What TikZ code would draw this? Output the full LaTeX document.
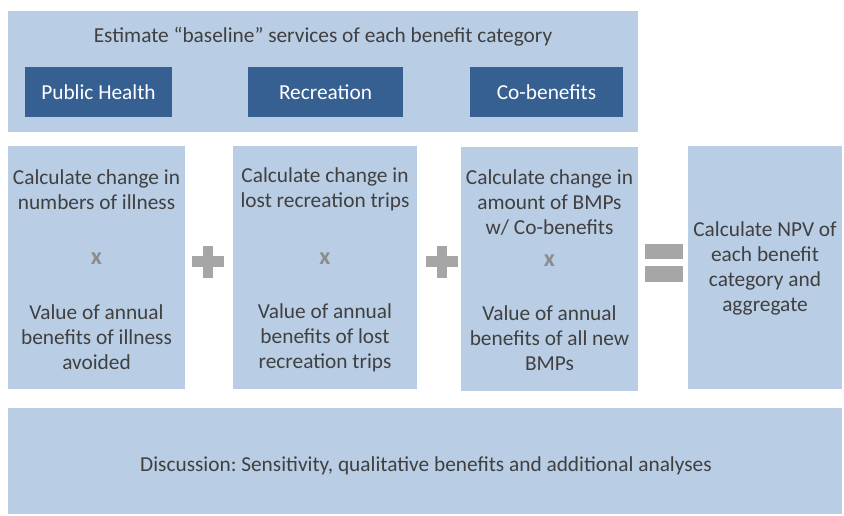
\documentclass[tikz,border=0pt]{standalone}
\usepackage{fontspec}
\setmainfont{Carlito}
\usetikzlibrary{fit}
\definecolor{lb}{HTML}{B9CDE5}
\definecolor{db}{HTML}{376092}
\definecolor{tx}{HTML}{404040}
\definecolor{sg}{HTML}{A6A6A6}
\definecolor{xg}{HTML}{8C8C8C}
\frenchspacing
\begin{document}
\begin{tikzpicture}[x=0.75pt,y=-0.75pt,
  lbox/.style={fill=lb, draw=none, inner sep=0pt},
  dbox/.style={fill=db, draw=none, inner sep=0pt},
  txt/.style={text=tx, align=center, font=\fontsize{16}{18.75}\selectfont, inner sep=0pt},
  btn/.style={text=white, font=\fontsize{16}{18.75}\selectfont, inner sep=0pt},
  xm/.style={text=xg, font=\fontsize{18}{20}\selectfont\bfseries, inner sep=0pt},
  sign/.style={fill=sg, draw=none}]
\useasboundingbox (0,0) rectangle (844,516);
% top band
\node[lbox, fit={(8,11) (638,132)}] (top) {};
\node[txt] (title) at (323,37) {Estimate “baseline” services of each benefit category};
\node[dbox, fit={(25,67) (172,117)}] (ph) {};
\node[btn] (pht) at (ph.center) {Public Health};
\node[dbox, fit={(248,67) (403,117)}] (rec) {};
\node[btn] (rect) at (rec.center) {Recreation};
\node[dbox, fit={(470,67) (623,117)}] (co) {};
\node[btn] (cot) at (co.center) {Co-benefits};
% columns
\node[lbox, fit={(8,146) (185,389)}] (b1) {};
\node[lbox, fit={(233,146) (417,389)}] (b2) {};
\node[lbox, fit={(461,147) (638,391)}] (b3) {};
\node[lbox, fit={(688,146) (842,389)}] (b4) {};
\node[txt] (b1a) at (96.5,189.5) {Calculate change in\\numbers of illness};
\node[xm] (b1x) at (96.5,259) {x};
\node[txt] (b1b) at (96.5,337.5) {Value of annual\\benefits of illness\\avoided};
\node[txt] (b2a) at (325,189.5) {Calculate change in\\lost recreation trips};
\node[xm] (b2x) at (325,259) {x};
\node[txt] (b2b) at (325,337.5) {Value of annual\\benefits of lost\\recreation trips};
\node[txt] (b3a) at (549.5,203) {Calculate change in\\amount of BMPs\\w/ Co-benefits};
\node[xm] (b3x) at (549.5,261) {x};
\node[txt] (b3b) at (549.5,338.5) {Value of annual\\benefits of all new\\BMPs};
\node[txt] (b4a) at (765,268.5) {Calculate NPV of\\each benefit\\category and\\aggregate};
% signs
\fill[sign] (203,246) rectangle (213,278);
\fill[sign] (192,256.5) rectangle (224,267.5);
\fill[sign] (437,246) rectangle (447,278);
\fill[sign] (426,256.5) rectangle (458,267.5);
\fill[sign] (645,244) rectangle (683,259);
\fill[sign] (645,266) rectangle (683,282);
% bottom
\node[lbox, fit={(8,408) (842,514)}] (bot) {};
\node[txt] (bott) at (426,466) {Discussion: Sensitivity, qualitative benefits and additional analyses};
\end{tikzpicture}
\end{document}
